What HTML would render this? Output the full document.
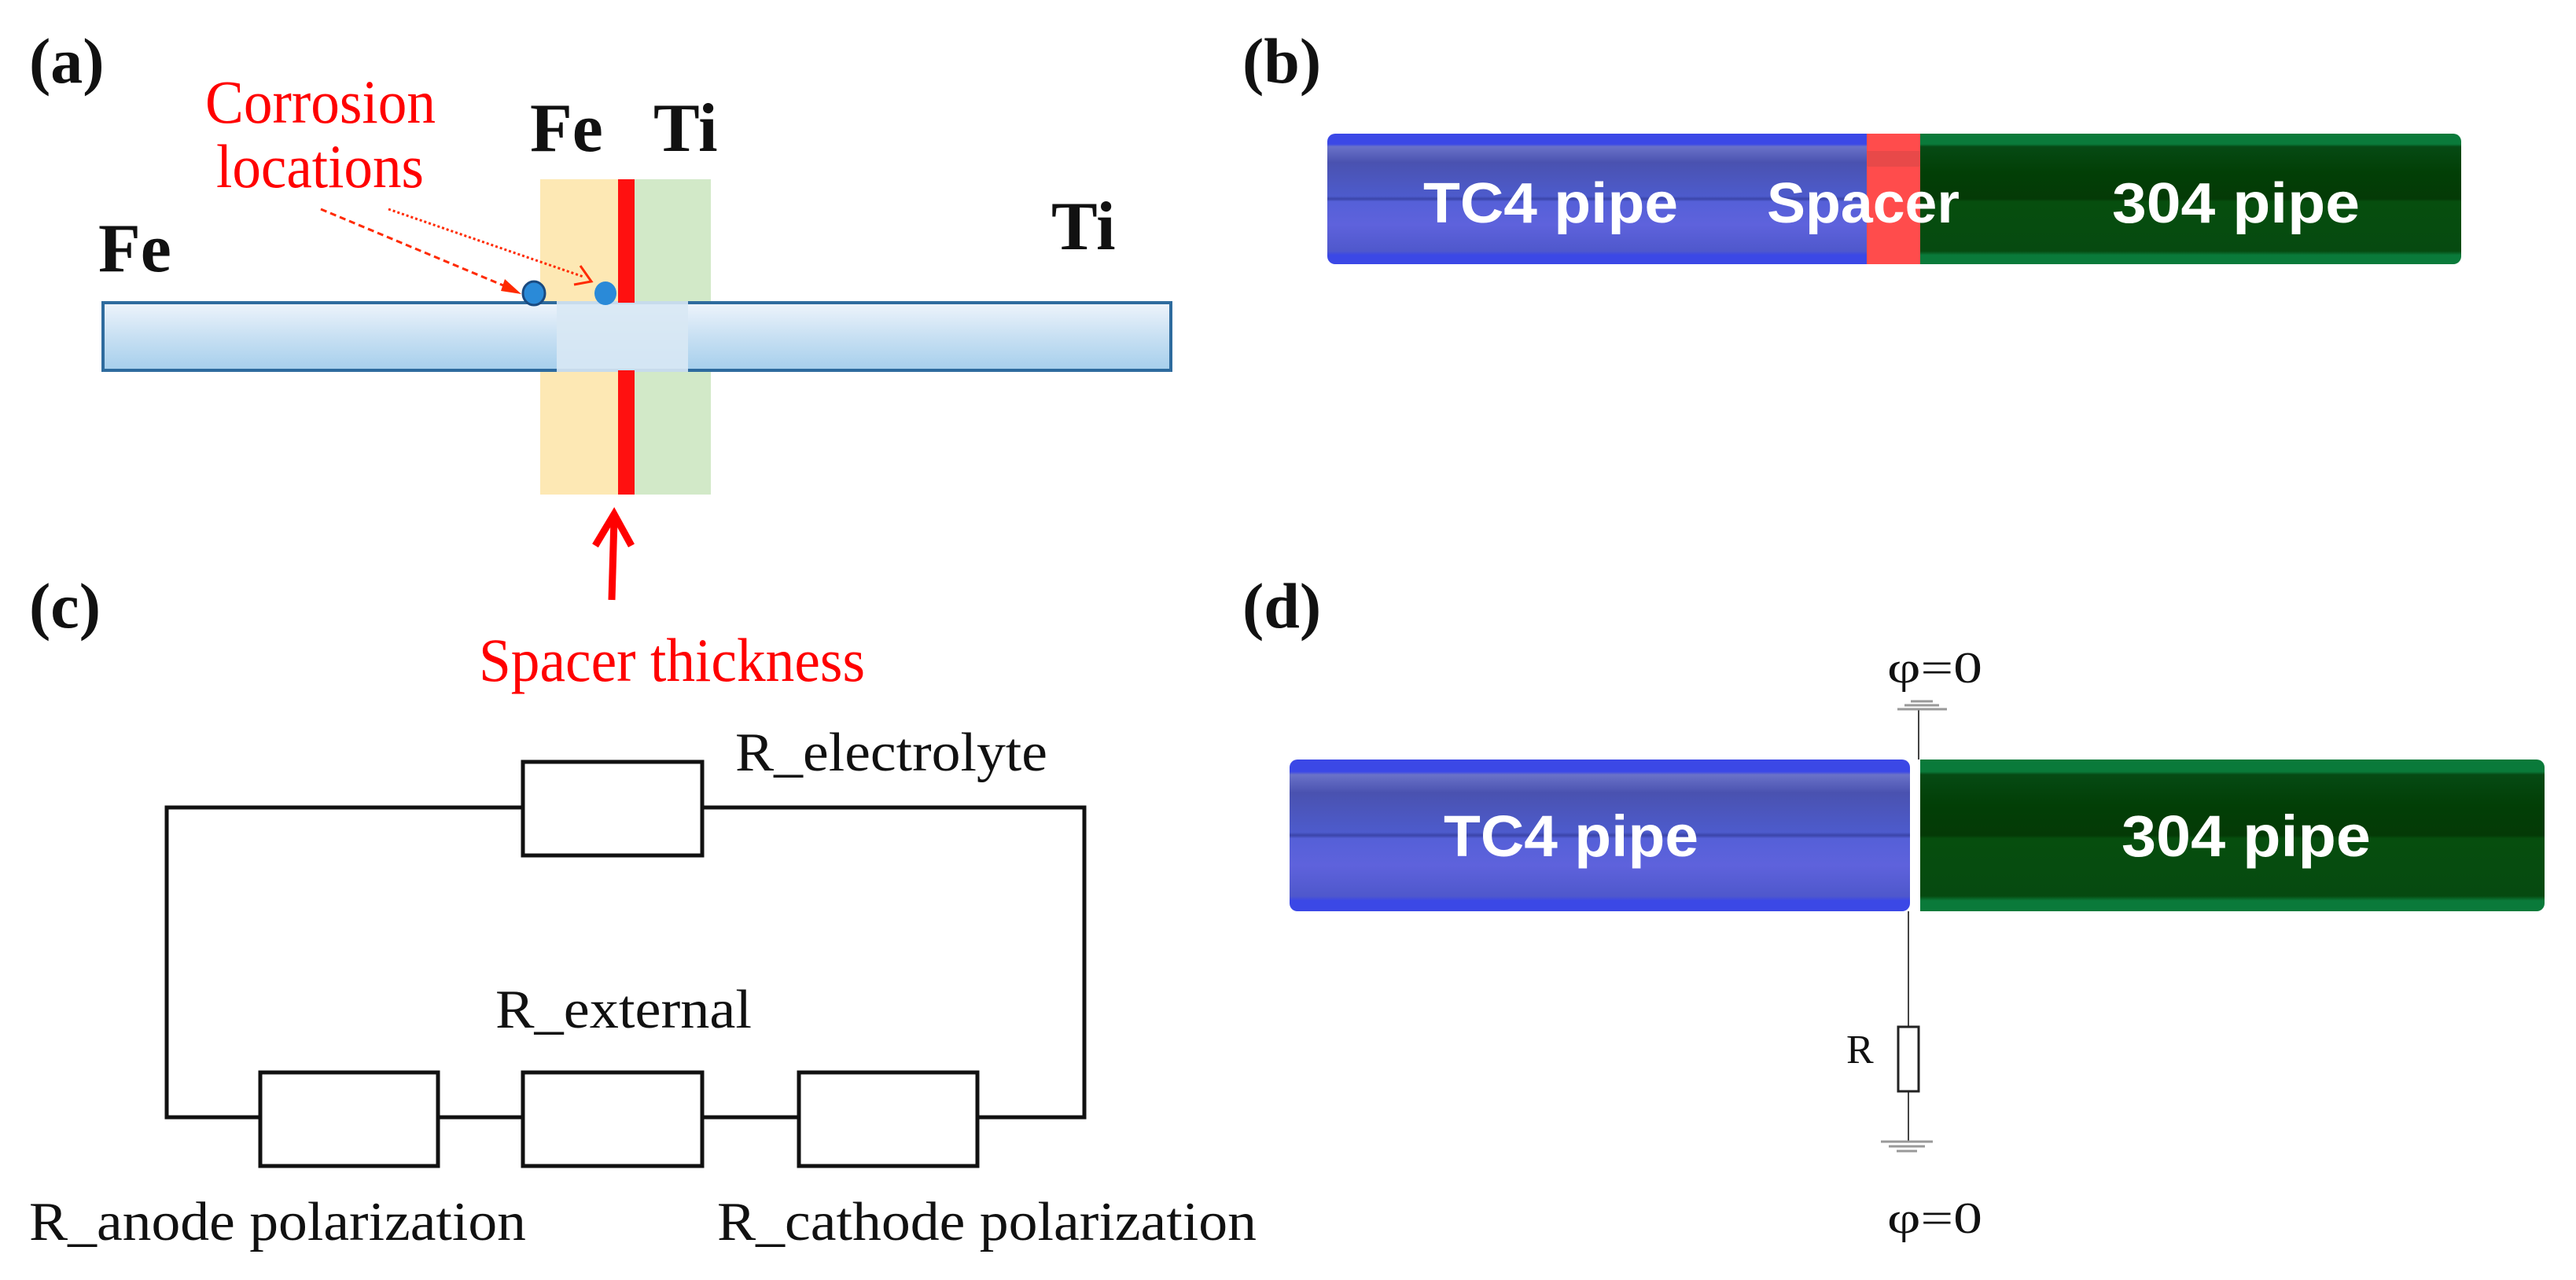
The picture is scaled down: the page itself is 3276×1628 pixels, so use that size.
<!DOCTYPE html>
<html><head><meta charset="utf-8"><style>html,body{margin:0;padding:0;background:#fff}svg{display:block}</style></head>
<body>
<svg xmlns="http://www.w3.org/2000/svg" width="3276" height="1628" viewBox="0 0 3276 1628">
<defs>
<linearGradient id="bar" x1="0" y1="0" x2="0" y2="1">
<stop offset="0" stop-color="#eef4fb"/><stop offset="0.5" stop-color="#c8e0f3"/><stop offset="1" stop-color="#a6cfec"/></linearGradient>
<linearGradient id="blue" x1="0" y1="0" x2="0" y2="1">
<stop offset="0" stop-color="#3b48e6"/><stop offset="0.08" stop-color="#3b48e6"/><stop offset="0.1" stop-color="#6a72c8"/><stop offset="0.22" stop-color="#4a52b0"/><stop offset="0.48" stop-color="#4d5bcc"/><stop offset="0.5" stop-color="#3a44a8"/><stop offset="0.52" stop-color="#5560d8"/><stop offset="0.7" stop-color="#5e62dc"/><stop offset="0.9" stop-color="#4f58cc"/><stop offset="0.93" stop-color="#3b48e6"/><stop offset="1" stop-color="#3b48e6"/></linearGradient>
<linearGradient id="green" x1="0" y1="0" x2="0" y2="1">
<stop offset="0" stop-color="#0a7a3a"/><stop offset="0.08" stop-color="#0a7a3a"/><stop offset="0.1" stop-color="#064a14"/><stop offset="0.3" stop-color="#023f06"/><stop offset="0.5" stop-color="#043a06"/><stop offset="0.52" stop-color="#064e0e"/><stop offset="0.9" stop-color="#064a10"/><stop offset="0.93" stop-color="#0a7a3a"/><stop offset="1" stop-color="#0a7a3a"/></linearGradient>
</defs>
<g font-family="Liberation Serif, serif" font-weight="bold" fill="#111">
<text x="37" y="105" font-size="82">(a)</text>
<text x="1580" y="105" font-size="82">(b)</text>
<text x="37" y="798" font-size="82">(c)</text>
<text x="1580" y="798" font-size="82">(d)</text>
<text x="674" y="192" font-size="88">Fe</text>
<text x="831" y="192" font-size="88">Ti</text>
<text x="1337" y="317" font-size="88">Ti</text>
<text x="125" y="345" font-size="88">Fe</text>
</g>
<!-- (a) -->
<rect x="687" y="228" width="100" height="401" fill="#fde8b4"/>
<rect x="807" y="228" width="97" height="401" fill="#d2e9c8"/>
<rect x="131" y="385" width="1358" height="86" fill="url(#bar)" stroke="#2e6b9e" stroke-width="4"/>
<rect x="708" y="383" width="167" height="90" fill="#d8e8f4" opacity="0.9"/>
<rect x="786" y="228" width="21" height="157" fill="#ff1010"/>
<rect x="786" y="471" width="21" height="158" fill="#ff1010"/>
<ellipse cx="679" cy="373" rx="14" ry="15" fill="#2a8ad8" stroke="#1a4a80" stroke-width="3"/>
<ellipse cx="770" cy="373" rx="14" ry="15" fill="#2a8ad8"/>
<g font-family="Liberation Serif, serif" fill="#ff0000" font-size="78">
<text x="261" y="156" textLength="293" lengthAdjust="spacingAndGlyphs">Corrosion</text>
<text x="275" y="238" textLength="264" lengthAdjust="spacingAndGlyphs">locations</text>
<text x="609" y="866" textLength="491" lengthAdjust="spacingAndGlyphs">Spacer thickness</text>
</g>
<line x1="408" y1="266" x2="652" y2="368" stroke="#ff2a00" stroke-width="3" stroke-dasharray="8,5"/>
<polygon points="663,374 642,355 637,370" fill="#ff2a00"/>
<line x1="494" y1="266" x2="742" y2="352" stroke="#ff2a00" stroke-width="3" stroke-dasharray="3,3"/>
<polyline points="738,338 752,358 730,362" fill="none" stroke="#ff2a00" stroke-width="3"/>
<line x1="778" y1="763" x2="781" y2="660" stroke="#ff0000" stroke-width="9"/>
<polyline points="757,694 781,654 803,694" fill="none" stroke="#ff0000" stroke-width="9"/>
<!-- (b) -->
<rect x="1688" y="170" width="780" height="166" rx="10" fill="url(#blue)"/>
<rect x="2442" y="170" width="688" height="166" rx="10" fill="url(#green)"/>
<rect x="2442" y="170" width="40" height="166" fill="url(#green)"/>
<rect x="2374" y="170" width="68" height="166" fill="#ff4c4c"/>
<rect x="2374" y="192" width="68" height="20" fill="#d84848" opacity="0.6"/>
<g font-family="Liberation Sans, sans-serif" font-weight="bold" fill="#fff" font-size="72">
<text x="1810" y="283" textLength="324" lengthAdjust="spacingAndGlyphs">TC4 pipe</text>
<text x="2247" y="283" textLength="245" lengthAdjust="spacingAndGlyphs">Spacer</text>
<text x="2686" y="283" textLength="315" lengthAdjust="spacingAndGlyphs">304 pipe</text>
</g>
<!-- (c) -->
<g fill="none" stroke="#111" stroke-width="5">
<polyline points="665,1027 212,1027 212,1421 331,1421"/>
<polyline points="893,1027 1379,1027 1379,1421 1243,1421"/>
<line x1="557" y1="1421" x2="665" y2="1421"/>
<line x1="893" y1="1421" x2="1016" y2="1421"/>
<rect x="665" y="969" width="228" height="119"/>
<rect x="331" y="1364" width="226" height="119"/>
<rect x="665" y="1364" width="228" height="119"/>
<rect x="1016" y="1364" width="227" height="119"/>
</g>
<g font-family="Liberation Serif, serif" fill="#111" font-size="70">
<text x="935" y="980" textLength="397" lengthAdjust="spacingAndGlyphs">R_electrolyte</text>
<text x="630" y="1307" textLength="326" lengthAdjust="spacingAndGlyphs">R_external</text>
<text x="37" y="1577" textLength="632" lengthAdjust="spacingAndGlyphs">R_anode polarization</text>
<text x="912" y="1577" textLength="686" lengthAdjust="spacingAndGlyphs">R_cathode polarization</text>
</g>
<!-- (d) -->
<rect x="1640" y="966" width="789" height="193" rx="10" fill="url(#blue)"/>
<rect x="2442" y="966" width="794" height="193" rx="10" fill="url(#green)"/>
<rect x="2442" y="966" width="40" height="193" fill="url(#green)"/>
<g font-family="Liberation Sans, sans-serif" font-weight="bold" fill="#fff" font-size="74">
<text x="1836" y="1089" textLength="324" lengthAdjust="spacingAndGlyphs">TC4 pipe</text>
<text x="2698" y="1089" textLength="317" lengthAdjust="spacingAndGlyphs">304 pipe</text>
</g>
<g stroke="#444" stroke-width="2" fill="none">
<line x1="2440" y1="902" x2="2440" y2="966"/>
<line x1="2427" y1="1159" x2="2427" y2="1306"/>
<line x1="2427" y1="1388" x2="2427" y2="1452"/>
<rect x="2414" y="1306" width="26" height="82" fill="#fff" stroke="#222" stroke-width="3"/>
</g>
<g stroke="#999" stroke-width="3">
<line x1="2413" y1="902" x2="2476" y2="902"/>
<line x1="2422" y1="897" x2="2466" y2="897"/>
<line x1="2430" y1="892" x2="2458" y2="892"/>
<line x1="2392" y1="1452" x2="2458" y2="1452"/>
<line x1="2402" y1="1458" x2="2448" y2="1458"/>
<line x1="2412" y1="1464" x2="2438" y2="1464"/>
</g>
<g font-family="Liberation Serif, serif" fill="#111" font-size="56">
<text x="2400" y="868" textLength="121" lengthAdjust="spacingAndGlyphs">φ=0</text>
<text x="2400" y="1568" textLength="121" lengthAdjust="spacingAndGlyphs">φ=0</text>
<text x="2348" y="1352" font-size="52">R</text>
</g>
</svg>
</body></html>
